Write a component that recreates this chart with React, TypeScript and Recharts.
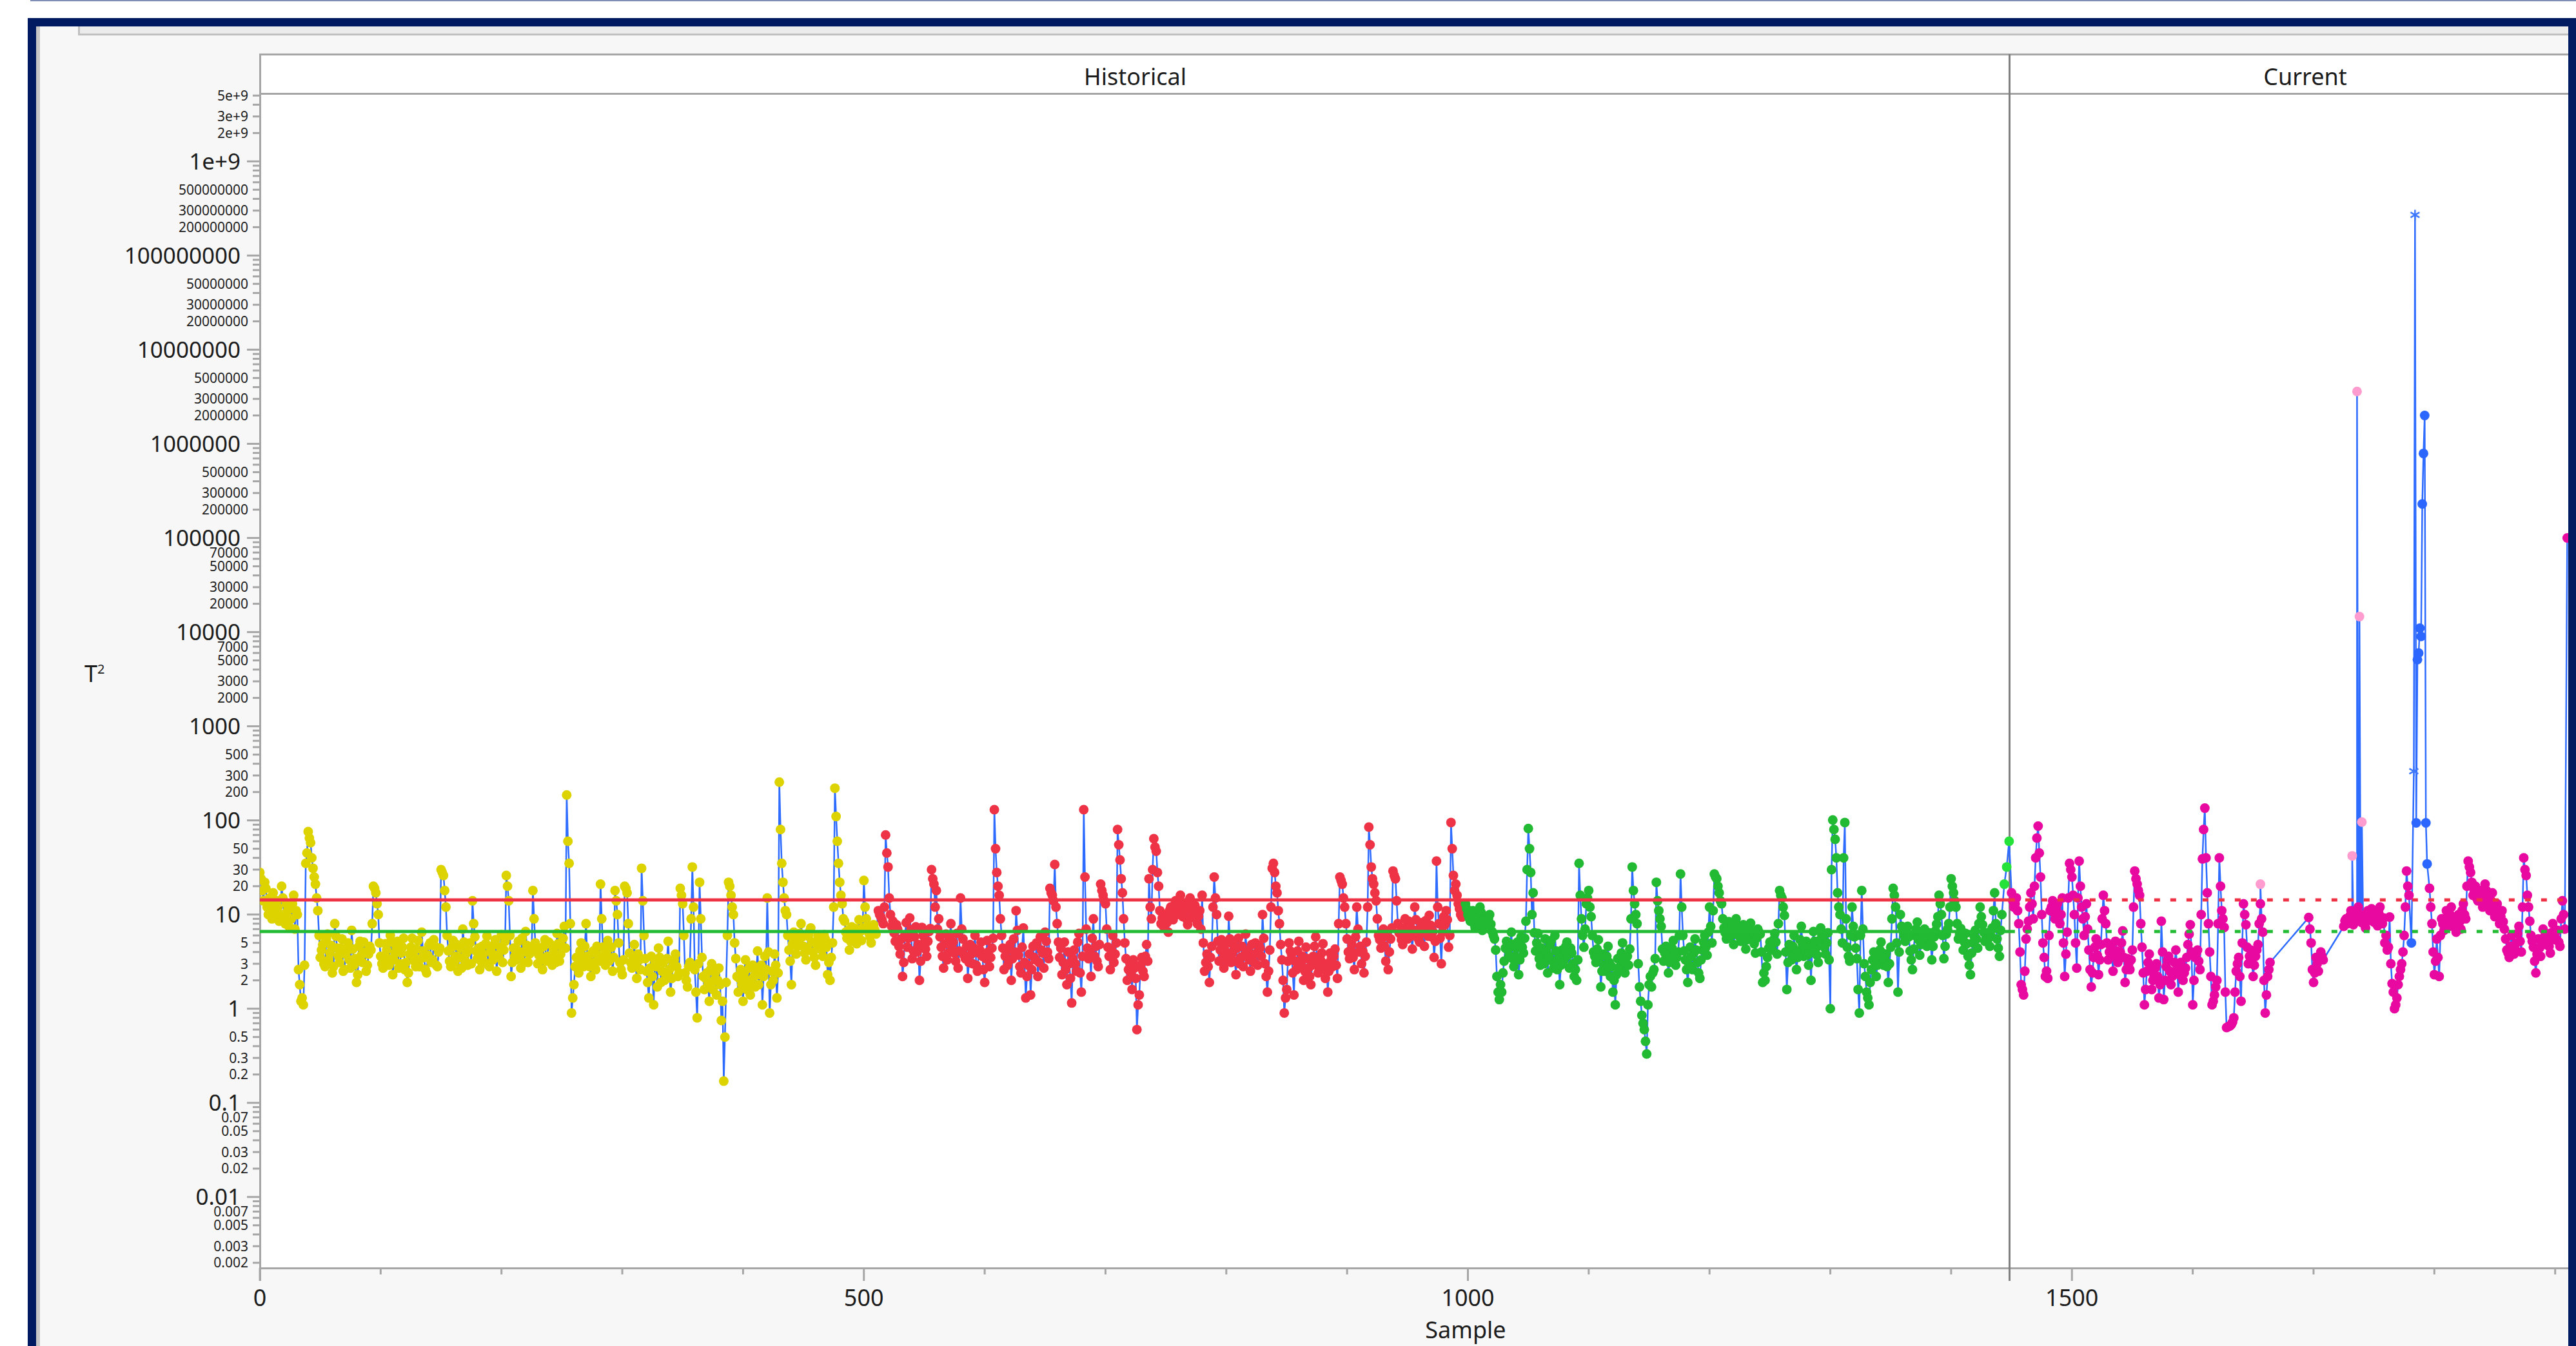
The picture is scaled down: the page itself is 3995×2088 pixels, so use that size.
import React from "react";
import { ComposedChart, Line, Scatter, XAxis, YAxis } from "recharts";

// ---------------- DATA ----------------
// T² per sample. Phase "Historical": samples 0..1448, phase "Current": 1448..end.
// Even-numbered and odd-numbered samples are kept in separate arrays (step 2).
const yellowEvenStart = 0;
const yellowEvenT2 = [
  28, 18, 22, 12, 15, 9, 11, 14, 8.5, 20, 10, 13, 7.5, 9, 16, 11,
  2.6, 1.2, 1.1,
  35, 76, 58, 31, 21, 11,
  3.5, 4.8, 2.8, 6.2, 3.9, 2.4, 8, 4.4, 3.1, 5.5, 2.6, 4.1, 3.3, 6.8, 2.9, 1.9, 4.6, 3.7, 5.1, 2.5, 3.8,
  4.2, 20, 17, 10, 3.6,
  2.7, 4.9, 3.4, 6, 2.3, 3.9, 5.2, 3, 4.5, 2.6, 1.9, 3.8, 5.6, 3.2, 4.3, 2.8, 6.5, 3.5, 2.4, 4.7, 3.1, 5.4, 2.9, 4,
  30, 26, 12,
  4.1, 2.8, 5.3, 3.6, 2.5, 4.4, 7, 3.2, 2.9, 5,
  14, 5.8,
  3.4, 2.6, 4.6, 3.1, 5.9, 2.8, 3.9, 4.8, 2.5, 3.5, 6.1, 4.2,
  26, 14, 2.2, 4.4,
  3.3, 5.2, 2.7, 4, 6.6, 3.1, 4.5,
  18, 5,
  3, 4.3, 2.6, 5.4, 3.6, 4.9, 2.9, 3.8, 6.3, 3.2, 4.6, 7.5,
  186, 35, 0.9, 1.8,
  3.5, 2.4, 5, 2.8, 8, 3.2, 2.2, 4.1, 2.6, 3.7,
  21, 4.5,
  2.9, 5.3, 3.4, 2.5,
  18, 10, 3.1, 2.3,
  20, 17, 3.9,
  2.7, 4.8, 2.1, 3.3,
  31, 6,
  2.5, 1.3, 3.6, 1.1, 2.8, 4.4, 1.9, 3.1, 2.3, 5.2, 1.5, 2.9, 3.8, 2.2,
  19, 13, 2.4, 1.7, 3.1, 32, 2.6, 0.8, 22, 3.5,
  1.6, 2.4, 1.2, 3, 2, 1.4, 2.7, 0.75,
  0.17, 1.9, 22, 16, 10, 3.4,
  1.5, 2.6, 1.2, 3.3, 2, 1.4, 2.9, 1.7, 4.1, 2.3, 1.1, 3.6,
  15, 0.9, 2.5, 3.8, 1.3,
  255, 35, 15, 10,
  4.2, 1.8, 6.5, 3.8, 5.2, 8, 4.6, 3.3, 5.9, 7.2, 4, 2.9, 6, 4.8, 3.6, 5.5,
  2.3, 2.0, 5, 220, 60, 22, 13, 8.5,
  5.6, 4.2, 7.4, 6, 4.9, 8.8, 5.3,
  23, 9,
  6.4, 5, 7.8, 6.2,
];
const yellowOddStart = 1;
const yellowOddT2 = [
  24, 14, 19, 10, 13, 17, 9.5, 12, 10, 15, 8, 11, 9, 13, 7, 10,
  1.8, 1.3, 2.9,
  45, 65, 40, 25, 15, 6,
  4.2, 3, 5.5, 3.3, 4.7, 2.8, 5.9, 3.6, 4.4, 2.5, 3.8, 5, 2.7, 4.3, 3.4, 2.3, 5.2, 3.1, 4, 2.9, 4.6,
  8, 19, 13, 5, 3,
  3.6, 4.2, 2.9, 5.1, 3.3, 4.4, 2.7, 3.9, 5.6, 3.1, 2.4, 4.5, 3.6, 2.8, 5.3, 3.4, 4.1, 2.6, 3.7, 5, 3.3, 4.6, 2.8, 4.4,
  28, 18, 6,
  3.2, 4.5, 3.1, 4.8, 3.5, 2.7, 5.1, 3.9, 4.2, 3,
  8, 4.1,
  4.4, 3.2, 3.8, 4.9, 2.9, 4.1, 3.3, 5.4, 3.7, 4.5, 3.1, 5.2,
  20, 6, 3.1, 3.6,
  4.2, 3.6, 5.6, 3.1, 4.7, 3.8, 4,
  9, 4.2,
  3.7, 3.3, 4.6, 3.2, 5.1, 3.6, 4.3, 3.1, 4.9, 3.8, 5.6, 4.4,
  60, 8, 1.3, 2.8,
  2.9, 4.1, 3.4, 4.6, 3.6, 2.8, 3.9, 3.1, 4.6, 3.2,
  9, 3.6,
  4, 3.2, 4.5, 3.5,
  14, 5, 2.6, 3.3,
  19, 8, 3.1,
  3.6, 2.9, 3.8, 2.6,
  14, 3.4,
  1.9, 2.7, 2.2, 3.2, 1.7, 3.5, 2.5, 2, 3.4, 2.6, 2.1, 3.3, 2.8, 2.4,
  16, 6, 2, 2.8, 9, 12, 1.5, 3, 9, 2.2,
  2.1, 1.8, 2.6, 1.6, 2.4, 2, 1.8, 1.2,
  0.5, 6, 20, 12, 5, 2.2,
  2.1, 1.8, 2.4, 1.6, 2.7, 1.9, 2.2, 2.5, 1.8, 2.9, 2.2, 2.6,
  4, 1.8, 2, 2.9, 2.4,
  80, 22, 11, 6,
  3.2, 4.9, 5.4, 4.6, 6.3, 5.8, 3.9, 4.4, 6.6, 5.1, 3.5, 4.8, 5.5, 4.2, 6.1, 4.5,
  3.1, 3.5, 12, 110, 35, 16, 9, 6.5,
  6.8, 5.2, 6.3, 7.1, 5.8, 6.6, 7.2,
  12, 7.4,
  5.8, 7, 6.9,
];

const redEvenStart = 512;
const redEvenT2 = [
  11, 9.5, 8,
  70, 32, 10,
  8.5, 5.2, 7, 3.8, 2.2, 6.1, 4.5, 9.2, 3.4, 5.8, 4, 2.0, 7.3, 5, 3.6, 6.6,
  30, 21, 18, 9,
  4.5, 2.7, 6.2, 3.9, 8, 5.1, 3.2, 2.7,
  15, 5.5,
  3.4, 2.1, 4.8, 3, 6, 2.5, 4.2, 3.6, 1.9, 5.3, 2.8, 4.4,
  130, 28, 16, 6,
  2.6, 4.1, 3.2, 2, 5.5, 11, 3.7, 2.4, 7.2, 1.3, 2.9, 1.4, 4.6, 3.3, 2.2, 5.8, 3.9,
  6.5, 4,
  19, 16, 34, 8,
  3.5, 2.3, 5.1, 1.8, 3, 1.15, 4.2, 2.5, 6.3, 1.5,
  130, 7,
  3.4, 2.2, 9, 4.6, 2.8,
  21, 16, 13, 4.5,
  2.6, 6, 3.8,
  80, 38, 17, 5,
  2, 3.1, 1.6, 2.7, 0.6, 1.4, 3.5, 2.2, 4.8,
  24, 9, 64, 47, 20, 8,
  7.5, 10, 6.5, 12, 8.8, 14, 11, 16, 9.5, 13, 7.8, 15, 10.5, 12.5, 8, 11,
  16, 2.5, 3.8, 1.9,
  4.6, 25, 10,
  3.2, 5.4, 2.7, 4,
  9.6,
  3.1, 4.7, 2.3, 5.6, 3.5, 2.8, 6.2, 4.1, 2.5, 3.7, 5, 2.9, 4.4,
  10, 3, 1.5, 4.2, 31, 28, 17, 8, 3.3, 0.9, 1.6, 5,
  3.8, 1.4, 2.6, 5.2, 3.1, 2, 4.5, 2.7, 1.8, 3.6, 5.8, 2.4, 3.3, 4.9, 2.1, 1.5, 3.9, 2.8, 4.3,
  2.1, 25, 21, 12, 5.5,
  3.4, 4.8, 2.6,
  12, 4,
  3, 2.4, 5.1,
  85, 32, 21, 14, 6,
  4.4, 7, 3.2, 2.6, 5.5,
  29, 24, 8,
  6.2, 4.8, 9, 5.5, 7.6, 4.3, 12, 6.8, 5.1, 8.2, 4.6, 7, 9.8, 5.8, 3.5,
  37, 8, 3, 9.5,
  11, 4.5,
  95, 26, 21, 13, 10, 12,
];
const redOddStart = 513;
const redOddT2 = [
  10, 8.8, 12,
  45, 15, 7.5,
  6.4, 7.8, 4.6, 5.5, 3.1, 8.2, 5.6, 6.9, 4.1, 7.4, 4.8, 3.2, 6, 4.3, 5.2, 7.1,
  24, 12, 7, 5.8,
  3.6, 4.9, 3.3, 5.7, 4.4, 3.9, 6.3, 4.1,
  7, 3.7,
  4.6, 3.1, 3.8, 4.4, 2.9, 3.9, 5.1, 2.6, 3.4, 4, 3.5, 5.6,
  50, 20, 9, 4.4,
  3.6, 2.9, 4.8, 3.4, 4, 6.8, 2.8, 4.5, 3.1, 2.2, 3.8, 2.6, 3.5, 5, 3.1, 4.2, 2.7,
  5.2, 3.4,
  17, 14, 12, 5.1,
  4.4, 3.1, 2.6, 4, 2.1, 3.4, 3, 5.1, 2.4, 3.6,
  25, 4.4,
  4.1, 5.6, 3.6, 3.2, 4.8,
  18, 14, 7, 3.6,
  4.2, 3.1, 5,
  55, 24, 9, 3.4,
  2.6, 2.4, 3.3, 2.1, 1.1, 2.9, 2.5, 3.6, 3.2,
  12, 30, 52, 28, 11, 9.2,
  9, 8.2, 11, 9.8, 12.5, 10, 13.5, 12, 10.8, 9, 14, 11.5, 9.2, 10.6, 9.6, 7,
  5, 3.1, 2.8, 3.5,
  12, 15, 5.2,
  4.2, 3.4, 4.8, 3.3,
  5.5,
  3.9, 3.2, 4.4, 3, 4.6, 3.7, 4, 3.3, 4.8, 3.1, 3.9, 4.7, 3.6,
  5.6, 2.2, 2.5, 12, 35, 20, 11, 4.8, 2, 1.3, 3.2, 4.1,
  2.4, 3.2, 4.1, 2.8, 3.6, 2.5, 3.4, 2.2, 2.9, 4.6, 3.3, 2.7, 3.9, 2.6, 3, 2.5, 3.4, 3.6, 2.9,
  8, 23, 15, 8, 4,
  4.2, 3.5, 5.8,
  7, 4.6,
  4.1, 3.6, 12,
  55, 24, 17, 9, 5.4,
  5.6, 4.6, 6.1, 4, 7.2,
  26, 14, 6.4,
  5.4, 7.2, 6.1, 8.5, 5.9, 6.8, 8.8, 5.5, 7.3, 6.4, 8.6, 5.9, 7.7, 6.6, 5.2,
  12, 5.6, 6.5, 7.8,
  8.8, 6,
  50, 18, 16, 11.5, 9.4,
];

const greenEvenStart = 998;
const greenEvenT2 = [
  13, 10, 8.5, 11, 7.2, 9, 12, 6.8, 8, 7.5, 10, 6.6, 5.5,
  2.2, 1.25, 1.5, 3.2,
  5.2, 3.6, 6.5, 2.8, 4.4, 2.3, 5.8, 3.9,
  8.5, 82, 28, 17,
  4.1, 6.3, 2.9, 3.7, 5.5, 2.4, 4.8, 3.2, 6, 2.6, 1.8, 4.2, 3.4, 5.1, 2.7, 3.9, 2.2, 2,
  35, 9, 4.5, 13, 18, 9.5, 4,
  3.1, 5.4, 1.7, 3.8, 2.5, 4.6, 2.2, 1.5, 1.1, 3.4, 2.8, 5, 2.4, 3.6, 4.3,
  32, 13, 8,
  1.7, 0.85, 0.6, 0.33, 1.8, 1.7, 2.6,
  22, 11, 7.5,
  3.2, 4.6, 2.4, 3.8, 5.3, 2.9, 4,
  27, 6,
  3.3, 1.9, 4.5, 2.6, 5.5, 3.1, 2.1, 4.2, 6, 3.7, 12, 5,
  27, 24, 17, 13,
  7.2, 5.5, 8.4, 6.1, 4.8, 9, 6.6, 5.2, 7.8, 4.3, 6.9, 8.1, 5.6, 3.9, 7, 6.2,
  1.9, 2, 3.5, 5.1, 4.2, 6.3, 3.8,
  18, 15, 9.8, 1.6,
  4.8, 3.3, 6, 2.6, 4.1, 7.5, 3.6, 5.2, 2.9, 2, 6.6, 4.4, 3.1, 7.2, 5.4, 3.8, 6.4, 1.0,
  101, 63, 17, 10, 5,
  95, 4.5, 3.2, 12, 5.8, 3.4, 0.9, 18, 3, 1.5, 1.1,
  2.6, 4, 2.2, 3.5, 5.1, 2.9, 3.8,
  1.9, 4.5, 19, 12, 1.5, 10,
  6.8, 5.2, 7.5, 4.1, 2.6, 6, 8.3, 3.7, 5.6, 7, 4.6, 6.4, 3.3, 5.8, 7.9,
  16, 10, 3.4, 6.2, 8,
  24, 17, 12,
  5.5, 7.1, 4.2, 6.3, 3.6, 2.3, 5, 6.8, 4.4,
  12, 7.8, 5.2, 6.4, 4.6, 7.2, 17, 5.5, 3.6, 10,
];
const greenOddStart = 999;
const greenOddT2 = [
  11.5, 9.2, 10, 8, 9.8, 7.6, 10.5, 8.8, 7.2, 9, 7.9, 6, 4.2,
  1.5, 1.8, 2.4, 4.4,
  4.2, 4.9, 3.4, 3.6, 5.1, 3.3, 4.5, 5.6,
  30, 50, 10, 6.4,
  5, 3.4, 4.4, 3, 4.1, 3.6, 5.3, 2.7, 4.1, 3.4, 2.9, 3.1, 4.6, 3.7, 4.4, 3, 2.6, 3.3,
  16, 6, 7, 15, 12, 6, 3.6,
  4.3, 3.5, 2.5, 2.9, 3.6, 3.1, 2.8, 2, 2.3, 2.7, 3.9, 3.2, 3.5, 2.9, 9,
  18, 10, 3,
  1.2, 0.7, 0.45, 1.1, 2.2, 2.4, 3.4,
  14, 9, 4.3,
  3.9, 3.3, 3.1, 4.4, 3.6, 3.5, 6,
  12, 4.1,
  2.6, 2.9, 3.6, 3.9, 4.2, 2.4, 3.3, 5.1, 4.5, 6.5, 7.5, 11,
  25, 20, 14, 9,
  6.4, 7, 5.9, 7.5, 6.2, 7.6, 5.8, 6.6, 6.1, 5.4, 7.7, 6.5, 4.9, 5.6, 6.5, 4,
  2.4, 2.8, 4.4, 4.6, 5.4, 5.1, 8,
  16, 12, 4, 3.1,
  4, 4.6, 3.8, 3.5, 5.4, 4.8, 4.4, 3.7, 3.9, 4.5, 5.2, 3.7, 5.3, 6.1, 4.5, 5, 3.3, 30,
  80, 40, 12, 7, 40,
  9, 3.6, 6, 7.5, 4.4, 1.6, 6, 7, 2.2, 1.3, 1.9,
  3.3, 3.1, 2.9, 4.2, 3.9, 3.4, 2.8,
  3, 9, 16, 5, 4, 7.5,
  6, 6.3, 5.8, 3.3, 4.3, 7, 5.4, 4.8, 6.3, 5.7, 5.5, 4.9, 4.6, 6.7, 9.5,
  13, 6, 4.6, 7, 12,
  20, 14, 8,
  6.2, 5.7, 5.1, 4.9, 2.9, 3.9, 5.9, 5.5, 8,
  9.5, 6.5, 5.8, 5.6, 5.9, 11, 8, 4.4, 6.8,
];
const greenLateSamples = [1444, 1446, 1448];
const greenLateT2 = [21, 32, 60];

const magentaAEvenStart = 1450;
const magentaAEvenT2 = [
  17, 12, 15, 8, 1.8, 1.4, 5.5, 8.5, 17, 9,
  40, 87, 25, 5, 2.2, 2.1,
  11, 14, 9, 13, 8, 15,
  2.2, 6.5, 35, 25, 10, 2.7, 37, 12, 6, 13,
  4.2, 1.7, 3.5, 5.5, 2.3, 4.8,
  16, 8, 3.3, 4.6, 2.5, 5.2, 3.1, 4,
  6.7, 1.9, 3.4, 2.6, 4.2, 29, 21, 16, 4.5, 1.1,
  2.5, 3.8, 1.6, 2.2, 3, 1.3, 8.5, 1.25, 2.8, 3.6, 1.8, 2.4, 4.2, 1.5, 3.1, 2, 2.7, 4.8, 7.8,
  1.1, 3.5, 4.2, 2.6, 39, 135, 17, 4, 1.1, 1.4, 2, 40, 11, 7.3, 0.63, 0.65, 0.68, 0.8, 2.5, 3.5,
  1.2, 13, 7.8, 3, 4.2, 2.2, 3.6, 4.8, 13, 6.5, 0.9, 2.2, 3.1,
];
const magentaAOddStart = 1451;
const magentaAOddT2 = [
  14, 13, 11, 4, 1.6, 2.5, 7, 12, 13, 20,
  65, 45, 10, 3.5, 2.5, 6,
  12, 10.5, 11.5, 9.5, 10, 5,
  3.8, 15, 30, 16, 5, 15, 20, 9, 9.5, 7,
  2.6, 2.4, 4.5, 3.7, 3.3, 9,
  11, 5, 4, 3.6, 3.9, 4.1, 3.4, 5,
  3.5, 2.6, 3, 3.3, 12, 24, 18, 8, 2.4, 1.6,
  3.1, 2.6, 2, 2.7, 2.2, 1.8, 4, 2, 3.3, 2.5, 2.2, 3.1, 2.9, 2.3, 2.6, 2.4, 3.5, 6.2, 4,
  2, 3.9, 3.2, 10, 80, 40, 8, 2.2, 1.2, 1.7, 8, 20, 9, 1.5, 0.64, 0.66, 0.72, 1.5, 3, 2.2,
  5, 10, 4.5, 3.6, 3, 2.9, 4.2, 8, 9, 2, 1.4, 2.6,
];
const magentaBEvenStart = 1696;
const magentaBEvenT2 = [9.3, 5, 1.9, 3.5, 2.5, 4, 3.3];
const magentaBOddStart = 1697;
const magentaBOddT2 = [7, 2.6, 2.4, 3, 3.4, 3.6];
const magentaCOddStart = 1725;
const magentaCOddT2 = [
  7.5, 9, 8.2, 11, 7.8, 10, 12, 8.5, 9.5, 7.2, 11, 8.8, 10.5, 9,
  7.6, 12, 8, 5, 4.2, 9.4, 1.85, 1.0, 1.3, 2.2, 3, 6, 29, 16,
];
const magentaCEvenStart = 1726;
const magentaCEvenT2 = [
  8.6, 8, 9.6, 9, 8.8, 11, 9.8, 8.2, 10, 8.4, 9.6, 11.5, 8.3, 9.6,
  10.4, 8.6, 9.2, 6, 4.5, 3, 1.5, 1.1, 1.8, 2.6, 4, 12, 20,
];
const magentaDEvenStart = 1796;
const magentaDEvenT2 = [
  19, 8, 2.3, 5.5, 2.2, 9, 6.8, 11, 7.5, 12, 8.2, 6.5, 10, 7, 13, 9, 37, 28, 16, 20,
  14, 18, 12, 21, 15, 11, 17, 9.5, 13, 8, 11, 7, 4.2, 3.5, 6, 3.8, 5, 7.5, 4, 40,
  26, 12, 6, 4.5, 2.4, 5.5, 3.6, 7, 4.8, 6.2, 3.9, 8, 5.4, 6.8, 4.6, 14, 7, 100000,
];
const magentaDOddStart = 1797;
const magentaDOddT2 = [
  12, 4, 3.2, 3.5, 6, 8, 9, 9.2, 10, 9.5, 7.2, 8.5, 8.4, 11, 10, 20, 32, 22, 18, 15,
  16, 14, 17, 18, 13, 14, 12, 11, 10, 9.6, 8.4, 5.5, 3.9, 4.6, 4.4, 4.2, 6.3, 5.2, 12, 30,
  16, 8.5, 5.2, 3.2, 3.8, 4.4, 5.2, 5.8, 5.3, 4.6, 6.4, 6.5, 5.5, 5.1, 9, 10,
];
const pinkSamples = [1656, 1732, 1736, 1738, 1740];
const pinkT2 = [21, 42, 3600000, 14600, 96];
const blueSamples = [1781, 1785, 1786, 1787, 1788, 1789, 1790, 1791, 1792, 1793, 1794];
const blueT2 = [5, 94, 5100, 6000, 11000, 9000, 230000, 790000, 2000000, 94, 34.5];
const starSamples = [1783, 1784];
const starT2 = [333, 270000000];

const uclValue = 14.3;
const centerValue = 6.6;
const phaseBoundary = 1448;
const xMax = 1937;

// ticks
const xTicks = [0, 100, 200, 300, 400, 500, 600, 700, 800, 900, 1000, 1100, 1200, 1300, 1400, 1500, 1600, 1700, 1800, 1900];
const xLabelTicks = [0, 500, 1000, 1500];
const xLabels = ["0", "500", "1000", "1500"];

const yMajorTicks = [0.01, 0.1, 1, 10, 100, 1000, 10000, 100000, 1000000, 10000000, 100000000, 1000000000];
const yMajorLabels = ["0.01", "0.1", "1", "10", "100", "1000", "10000", "100000", "1000000", "10000000", "100000000", "1e+9"];
const yMinorLabelTicks = [
  5e9, 3e9, 2e9, 5e8, 3e8, 2e8, 5e7, 3e7, 2e7, 5e6, 3e6, 2e6, 5e5, 3e5, 2e5,
  7e4, 5e4, 3e4, 2e4, 7000, 5000, 3000, 2000, 500, 300, 200, 50, 30, 20, 5, 3, 2,
  0.5, 0.3, 0.2, 0.07, 0.05, 0.03, 0.02, 0.007, 0.005, 0.003, 0.002,
];
const yMinorLabels = [
  "5e+9", "3e+9", "2e+9", "500000000", "300000000", "200000000", "50000000", "30000000", "20000000",
  "5000000", "3000000", "2000000", "500000", "300000", "200000",
  "70000", "50000", "30000", "20000", "7000", "5000", "3000", "2000", "500", "300", "200", "50", "30", "20", "5", "3", "2",
  "0.5", "0.3", "0.2", "0.07", "0.05", "0.03", "0.02", "0.007", "0.005", "0.003", "0.002",
];
const yDomain = [0.00176, 5.1e9];

// ---------------- BUILD ----------------
type Pt = { x: number; y: number; g: string };
const seq = (start: number, vals: number[], g: string): Pt[] => vals.map((v, i) => ({ x: start + 2 * i, y: v, g }));
const listed = (xs: number[], vals: number[], g: string): Pt[] => vals.map((v, i) => ({ x: xs[i], y: v, g }));

const yellowPts = [...seq(yellowEvenStart, yellowEvenT2, "yellow"), ...seq(yellowOddStart, yellowOddT2, "yellow")];
const redPts = [...seq(redEvenStart, redEvenT2, "red"), ...seq(redOddStart, redOddT2, "red")];
const greenPts = [...seq(greenEvenStart, greenEvenT2, "green"), ...seq(greenOddStart, greenOddT2, "green")];
const greenLatePts = listed(greenLateSamples, greenLateT2, "greenLate");
const magentaPts = [
  ...seq(magentaAEvenStart, magentaAEvenT2, "magenta"),
  ...seq(magentaAOddStart, magentaAOddT2, "magenta"),
  ...seq(magentaBEvenStart, magentaBEvenT2, "magenta"),
  ...seq(magentaBOddStart, magentaBOddT2, "magenta"),
  ...seq(magentaCOddStart, magentaCOddT2, "magenta"),
  ...seq(magentaCEvenStart, magentaCEvenT2, "magenta"),
  ...seq(magentaDEvenStart, magentaDEvenT2, "magenta"),
  ...seq(magentaDOddStart, magentaDOddT2, "magenta"),
];
const pinkPts = listed(pinkSamples, pinkT2, "pink");
const bluePts = listed(blueSamples, blueT2, "blue");
const starPts = listed(starSamples, starT2, "star");

const allPts = [...yellowPts, ...redPts, ...greenPts, ...greenLatePts, ...magentaPts, ...pinkPts, ...bluePts, ...starPts].sort(
  (a, b) => a.x - b.x
);

const uclHist = [{ x: 0, y: uclValue }, { x: phaseBoundary, y: uclValue }];
const uclCur = [{ x: phaseBoundary, y: uclValue }, { x: xMax, y: uclValue }];
const ctrHist = [{ x: 0, y: centerValue }, { x: phaseBoundary, y: centerValue }];
const ctrCur = [{ x: phaseBoundary, y: centerValue }, { x: xMax, y: centerValue }];

const yMinorAll: number[] = [];
for (let e = -3; e <= 9; e++) {
  for (let k = 2; k <= 9; k++) {
    const v = k * Math.pow(10, e);
    if (v >= yDomain[0] && v <= yDomain[1]) yMinorAll.push(v);
  }
}
const yTicks = [...yMajorTicks, ...yMinorAll];

const FONT = "'Noto Sans', 'Open Sans', 'DejaVu Sans', sans-serif";
const AXIS_GRAY = "#a6a6a6";
const TEXT = "#1c1c1c";

const near = (a: number, b: number) => Math.abs(a - b) <= Math.abs(b) * 1e-6;

const YTick = (props: any) => {
  const { x, y, payload } = props;
  const v = payload.value;
  const mi = yMajorTicks.findIndex((t) => near(v, t));
  if (mi >= 0) {
    return (
      <g>
        <line x1={x - 20} x2={x + 1} y1={y} y2={y} stroke={AXIS_GRAY} strokeWidth={3} />
        <text x={x - 30} y={y} dy="0.36em" textAnchor="end" fontSize={35} fontFamily={FONT} fill={TEXT}>
          {yMajorLabels[mi]}
        </text>
      </g>
    );
  }
  const li = yMinorLabelTicks.findIndex((t) => near(v, t));
  return (
    <g>
      <line x1={x - 11} x2={x + 1} y1={y} y2={y} stroke={AXIS_GRAY} strokeWidth={3} />
      {li >= 0 && (
        <text x={x - 18} y={y} dy="0.36em" textAnchor="end" fontSize={21} fontFamily={FONT} fill={TEXT}>
          {yMinorLabels[li]}
        </text>
      )}
    </g>
  );
};

const XTick = (props: any) => {
  const { x, y, payload } = props;
  const li = xLabelTicks.indexOf(payload.value);
  return (
    <g>
      <line x1={x} x2={x} y1={y} y2={y + (li >= 0 ? 20 : 10)} stroke={AXIS_GRAY} strokeWidth={3} />
      {li >= 0 && (
        <text x={x} y={y + 46} dy="0.36em" textAnchor="middle" fontSize={36} fontFamily={FONT} fill={TEXT}>
          {xLabels[li]}
        </text>
      )}
    </g>
  );
};

const dotShape = (color: string) => (p: any) =>
  p.cx == null || p.cy == null ? <g /> : <circle cx={p.cx} cy={p.cy} r={7.5} fill={color} />;

const starShape = (p: any) => {
  if (p.cx == null || p.cy == null) return <g />;
  const { cx, cy } = p;
  const r = 8;
  const dx = r * Math.cos(Math.PI / 6);
  const dy = r * Math.sin(Math.PI / 6);
  return (
    <g stroke="#3f78ff" strokeWidth={2.5}>
      <line x1={cx} y1={cy - r} x2={cx} y2={cy + r} />
      <line x1={cx - dx} y1={cy - dy} x2={cx + dx} y2={cy + dy} />
      <line x1={cx - dx} y1={cy + dy} x2={cx + dx} y2={cy - dy} />
    </g>
  );
};

const abs = (l: number, t: number, w: number, h: number, bg: string): React.CSSProperties => ({
  position: "absolute",
  left: l,
  top: t,
  width: w,
  height: h,
  background: bg,
});

const headText = (l: number, w: number): React.CSSProperties => ({
  position: "absolute",
  left: l,
  top: 94,
  width: w,
  height: 50,
  lineHeight: "50px",
  textAlign: "center",
  fontSize: 36,
  color: TEXT,
});

export default function App() {
  return (
    <div
      style={{
        position: "fixed",
        left: 0,
        top: 0,
        width: 3995,
        height: 2088,
        overflow: "hidden",
        background: "#ffffff",
        fontFamily: FONT,
      }}
    >
      <div style={abs(47, 0, 3948, 2, "#7d8db3")} />
      <div style={abs(43, 28, 3952, 2060, "#001a62")} />
      <div style={{ ...abs(56, 41, 3927, 2047, "#f7f7f7"), overflow: "hidden" }}>
        <div style={{ position: "absolute", left: -56, top: -41, width: 4100, height: 2140 }}>
          <div style={abs(56, 41, 6, 2100, "#c6c6c6")} />
          <div
            style={{
              ...abs(121, 41, 3950, 11, "#ebebeb"),
              borderLeft: "3px solid #c0c0c0",
              borderBottom: "3px solid #c0c0c0",
            }}
          />
          <div style={abs(403, 83, 3700, 1884, "#ffffff")} />
          <div style={abs(403, 83, 3700, 3, AXIS_GRAY)} />
          <div style={abs(403, 144, 3700, 3, AXIS_GRAY)} />
          <div style={abs(402, 83, 3, 1904, AXIS_GRAY)} />
          <div style={abs(403, 1966, 3700, 3, AXIS_GRAY)} />
          <div style={abs(3115, 84, 3, 1903, "#808080")} />
          <div style={headText(406, 2709)}>Historical</div>
          <div style={headText(3118, 914)}>Current</div>
          <div
            style={{
              position: "absolute",
              left: 131,
              top: 1020,
              height: 50,
              lineHeight: "50px",
              fontSize: 36,
              color: TEXT,
            }}
          >
            T<sup style={{ fontSize: 20, verticalAlign: "top", lineHeight: "36px" }}>2</sup>
          </div>
          <div
            style={{
              position: "absolute",
              left: 2073,
              top: 2038,
              width: 400,
              height: 50,
              lineHeight: "50px",
              textAlign: "center",
              fontSize: 36,
              color: TEXT,
            }}
          >
            Sample
          </div>
          <div style={{ position: "absolute", left: 0, top: 0 }}>
            <ComposedChart
              width={4032}
              height={2088}
              data={allPts}
              margin={{ top: 147, right: 0, bottom: 0, left: 0 }}
            >
              <XAxis
                type="number"
                dataKey="x"
                domain={[0, xMax]}
                ticks={xTicks}
                interval={0}
                tick={(p: any) => <XTick {...p} />}
                tickLine={false}
                axisLine={false}
                tickSize={0}
                tickMargin={0}
                height={121}
                allowDataOverflow
              />
              <YAxis
                type="number"
                dataKey="y"
                scale="log"
                domain={yDomain}
                ticks={yTicks}
                interval={0}
                tick={(p: any) => <YTick {...p} />}
                tickLine={false}
                axisLine={false}
                tickSize={0}
                tickMargin={0}
                width={403}
                allowDataOverflow
              />
              <Line
                dataKey="y"
                type="linear"
                stroke="#2e6bff"
                strokeWidth={2.5}
                dot={false}
                activeDot={false}
                isAnimationActive={false}
              />
              <Scatter data={yellowPts} dataKey="y" shape={dotShape("#dcd300")} isAnimationActive={false} />
              <Scatter data={redPts} dataKey="y" shape={dotShape("#ef3347")} isAnimationActive={false} />
              <Scatter data={greenPts} dataKey="y" shape={dotShape("#22b933")} isAnimationActive={false} />
              <Scatter data={greenLatePts} dataKey="y" shape={dotShape("#25e23a")} isAnimationActive={false} />
              <Scatter data={magentaPts} dataKey="y" shape={dotShape("#e80aa0")} isAnimationActive={false} />
              <Scatter data={pinkPts} dataKey="y" shape={dotShape("#ff9ccf")} isAnimationActive={false} />
              <Scatter data={bluePts} dataKey="y" shape={dotShape("#2b66ff")} isAnimationActive={false} />
              <Scatter data={starPts} dataKey="y" shape={starShape} isAnimationActive={false} />
              <Line data={uclHist} dataKey="y" type="linear" stroke="#ef3347" strokeWidth={5} dot={false} activeDot={false} isAnimationActive={false} zIndex={700} />
              <Line data={ctrHist} dataKey="y" type="linear" stroke="#22bb33" strokeWidth={5} dot={false} activeDot={false} isAnimationActive={false} zIndex={700} />
              <Line data={uclCur} dataKey="y" type="linear" stroke="#ef3347" strokeWidth={5} strokeDasharray="9 16" dot={false} activeDot={false} isAnimationActive={false} zIndex={700} />
              <Line data={ctrCur} dataKey="y" type="linear" stroke="#22bb33" strokeWidth={5} strokeDasharray="9 16" dot={false} activeDot={false} isAnimationActive={false} zIndex={700} />
            </ComposedChart>
          </div>
        </div>
      </div>
    </div>
  );
}
